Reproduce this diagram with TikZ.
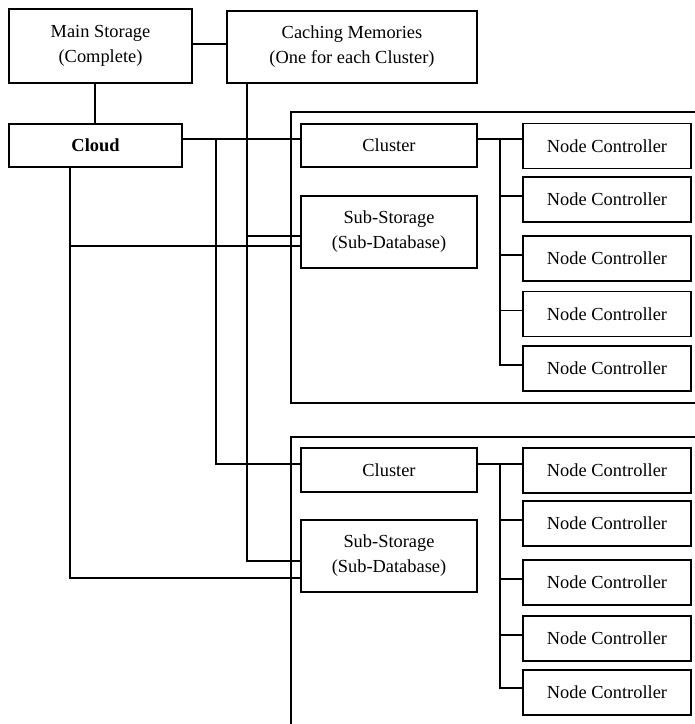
\documentclass[tikz,border=0pt]{standalone}
\usepackage{fontspec}
\setmainfont{Liberation Serif}
\begin{document}
\begin{tikzpicture}[x=1pt,y=-1pt,
  box/.style={draw=black,line width=1.8pt,fill=white,inner sep=0pt,align=center,
    font=\fontsize{18.4}{25}\selectfont},
  conn/.style={draw=black,line width=1.8pt},
  frame/.style={draw=black,line width=1.8pt}]
\useasboundingbox (0,0) rectangle (695,724);
% containers
\draw[frame] (700,112) -- (291,112) -- (291,403) -- (700,403);
\draw[frame] (700,437) -- (291,437) -- (291,730);
% boxes
\node[box,minimum width=183pt,minimum height=74pt] (main) at (100.5,46) {Main Storage\\(Complete)};
\node[box,minimum width=250pt,minimum height=72pt] (cache) at (352,47) {Caching Memories\\(One for each Cluster)};
\node[box,minimum width=173pt,minimum height=43pt] (cloud) at (95.5,145.5) {\textbf{Cloud}};
\node[box,minimum width=176pt,minimum height=43pt] (cl1) at (389,145.5) {Cluster};
\node[box,minimum width=176pt,minimum height=72pt] (sub1) at (389,232) {Sub-Storage\\(Sub-Database)};
\node[box,minimum width=176pt,minimum height=44pt] (cl2) at (389,470) {Cluster};
\node[box,minimum width=176pt,minimum height=72pt] (sub2) at (389,556) {Sub-Storage\\(Sub-Database)};
\foreach \n/\y in {11/146,12/199.5,13/258.5,14/314,15/368.5,21/470.5,22/523.5,23/582.5,24/638.5,25/692.5}{
  \node[box,minimum width=168pt,minimum height=45pt] (nc\n) at (607,\y) {Node Controller};
}
% levels
\coordinate (hA) at (0,44);
\coordinate (hB) at (0,139);
\coordinate (hC) at (0,464);
\coordinate (hD) at (0,236);
\coordinate (hE) at (0,246);
\coordinate (hF) at (0,561);
\coordinate (hG) at (0,578);
\coordinate (vA) at (95,0);
\coordinate (vB) at (216,0);
\coordinate (vC) at (247,0);
\coordinate (vD) at (70,0);
\coordinate (bus) at (500,0);
% connectors
\draw[conn] (main.east |- hA) -- (cache.west |- hA);
\draw[conn] (main.south -| vA) -- (cloud.north -| vA);
\draw[conn] (cloud.east |- hB) -- (cl1.west |- hB);
\draw[conn] (vB |- hB) |- (cl2.west |- hC);
\draw[conn] (cache.south -| vC) |- (sub2.west |- hF);
\draw[conn] (vC |- hD) -- (sub1.west |- hD);
\draw[conn] (cloud.south -| vD) |- (sub2.west |- hG);
\draw[conn] (vD |- hE) -- (sub1.west |- hE);
% node controller buses
\draw[conn] (cl1.east |- hB) -- (nc11.west |- hB);
\draw[conn] (bus |- hB) |- ([yshift=3.5pt]nc15.west);
\foreach \n in {12,13,14}{\draw[conn] ([yshift=3.5pt]nc\n.west) -- ++(-23,0);}
\draw[conn] (cl2.east |- hC) -- (nc21.west |- hC);
\draw[conn] (bus |- hC) |- ([yshift=4.5pt]nc25.west);
\foreach \n in {22,23,24}{\draw[conn] ([yshift=3.5pt]nc\n.west) -- ++(-23,0);}
\end{tikzpicture}
\end{document}
